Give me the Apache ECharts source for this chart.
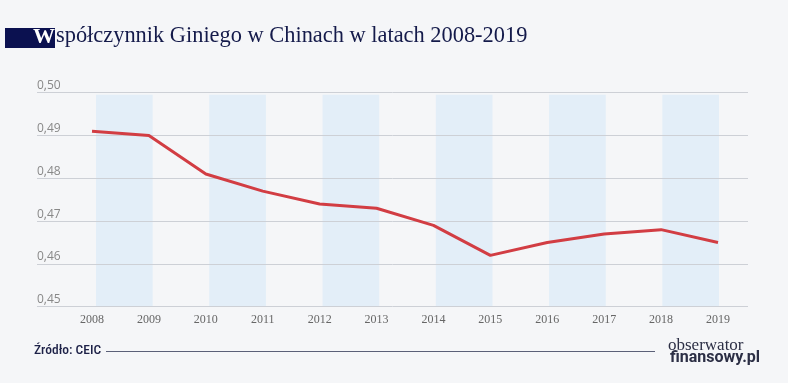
<!DOCTYPE html>
<html>
<head>
<meta charset="utf-8">
<script src="https://cdn.jsdelivr.net/npm/echarts@6/dist/echarts.min.js"></script>
<style>
html,body{margin:0;padding:0;background:#f5f6f8;}
#c{width:788px;height:383px;}
</style>
</head>
<body>
<div id="c"></div>
<script>
const years = ['2008','2009','2010','2011','2012','2013','2014','2015','2016','2017','2018','2019'];
const gini = [0.491,0.490,0.481,0.477,0.474,0.473,0.469,0.462,0.465,0.467,0.468,0.465];
const bandPairs = [['2008','2009'],['2010','2011'],['2012','2013'],['2014','2015'],['2016','2017'],['2018','2019']];
const yMin = 0.45, yMax = 0.50, yStep = 0.01;
const titleText = 'spółczynnik Giniego w Chinach w latach 2008-2019';
const sourceText = 'Źródło: CEIC';

const chart = echarts.init(document.getElementById('c'), null, {renderer:'canvas'});
const GT = 92.7, GB = 383-306.7;
chart.setOption({
  backgroundColor:'#f5f6f8',
  animation:false,
  grid:[
    {left:37,right:40,top:GT,bottom:GB},
    {left:92,right:70,top:GT,bottom:GB},
    {left:96,right:69,top:GT,bottom:GB}
  ],
  xAxis:[
    {gridIndex:0,type:'category',data:years,show:false},
    {gridIndex:1,type:'category',data:years,boundaryGap:false,
     axisLine:{show:false},axisTick:{show:false},splitLine:{show:false},
     axisLabel:{margin:7,color:'#666',fontFamily:'Liberation Serif',fontSize:12}},
    {gridIndex:2,type:'category',data:years,boundaryGap:false,show:false}
  ],
  yAxis:[
    {gridIndex:0,type:'value',min:yMin,max:yMax,interval:yStep,z:3,
     axisLine:{show:false},axisTick:{show:false},
     splitLine:{lineStyle:{color:'#cdd0d6',width:1}},
     axisLabel:{inside:true,margin:0,verticalAlign:'bottom',padding:[0,0,1,0],
       color:'#888',fontFamily:'Open Sans',fontSize:12,
       formatter:v=>v.toFixed(2).replace('.',',')}},
    {gridIndex:1,type:'value',min:yMin,max:yMax,interval:yStep,show:false},
    {gridIndex:2,type:'value',min:yMin,max:yMax,interval:yStep,show:false}
  ],
  series:[
    {type:'line',xAxisIndex:2,yAxisIndex:2,data:[],z:1,silent:true,
     markArea:{silent:true,itemStyle:{color:'#e3eef8'},
       data:bandPairs.map(p=>[{xAxis:p[0],yAxis:yMax-0.0005},{xAxis:p[1],yAxis:yMin}])}},
    {type:'line',xAxisIndex:1,yAxisIndex:1,data:gini,z:5,symbol:'none',
     lineStyle:{color:'#d23d43',width:3}}
  ],
  graphic:[
    {type:'rect',shape:{x:5,y:28,width:50,height:20},style:{fill:'#0b1150'}},
    {type:'text',left:33,top:26,style:{text:'W',fill:'#ffffff',font:'bold 22px "Liberation Serif"'}},
    {type:'text',left:56,top:25,style:{text:titleText,fill:'#141a4a',font:'22.4px "Liberation Serif"'}},
    {type:'text',left:34,top:344,style:{text:sourceText,fill:'#1d2147',font:'500 13.5px "Roboto Condensed", "Liberation Sans Narrow"'}},
    {type:'line',shape:{x1:106,y1:351.5,x2:655,y2:351.5},style:{stroke:'#5b6078',lineWidth:1.2}},
    {type:'text',left:668,top:337,style:{text:'obserwator',fill:'#2c2f45',font:'17px "Liberation Serif"'}},
    {type:'text',left:670,top:350,style:{text:'finansowy.pl',fill:'#2c2f45',font:'bold 16px "Roboto"'}}
  ]
});
</script>
</body>
</html>
